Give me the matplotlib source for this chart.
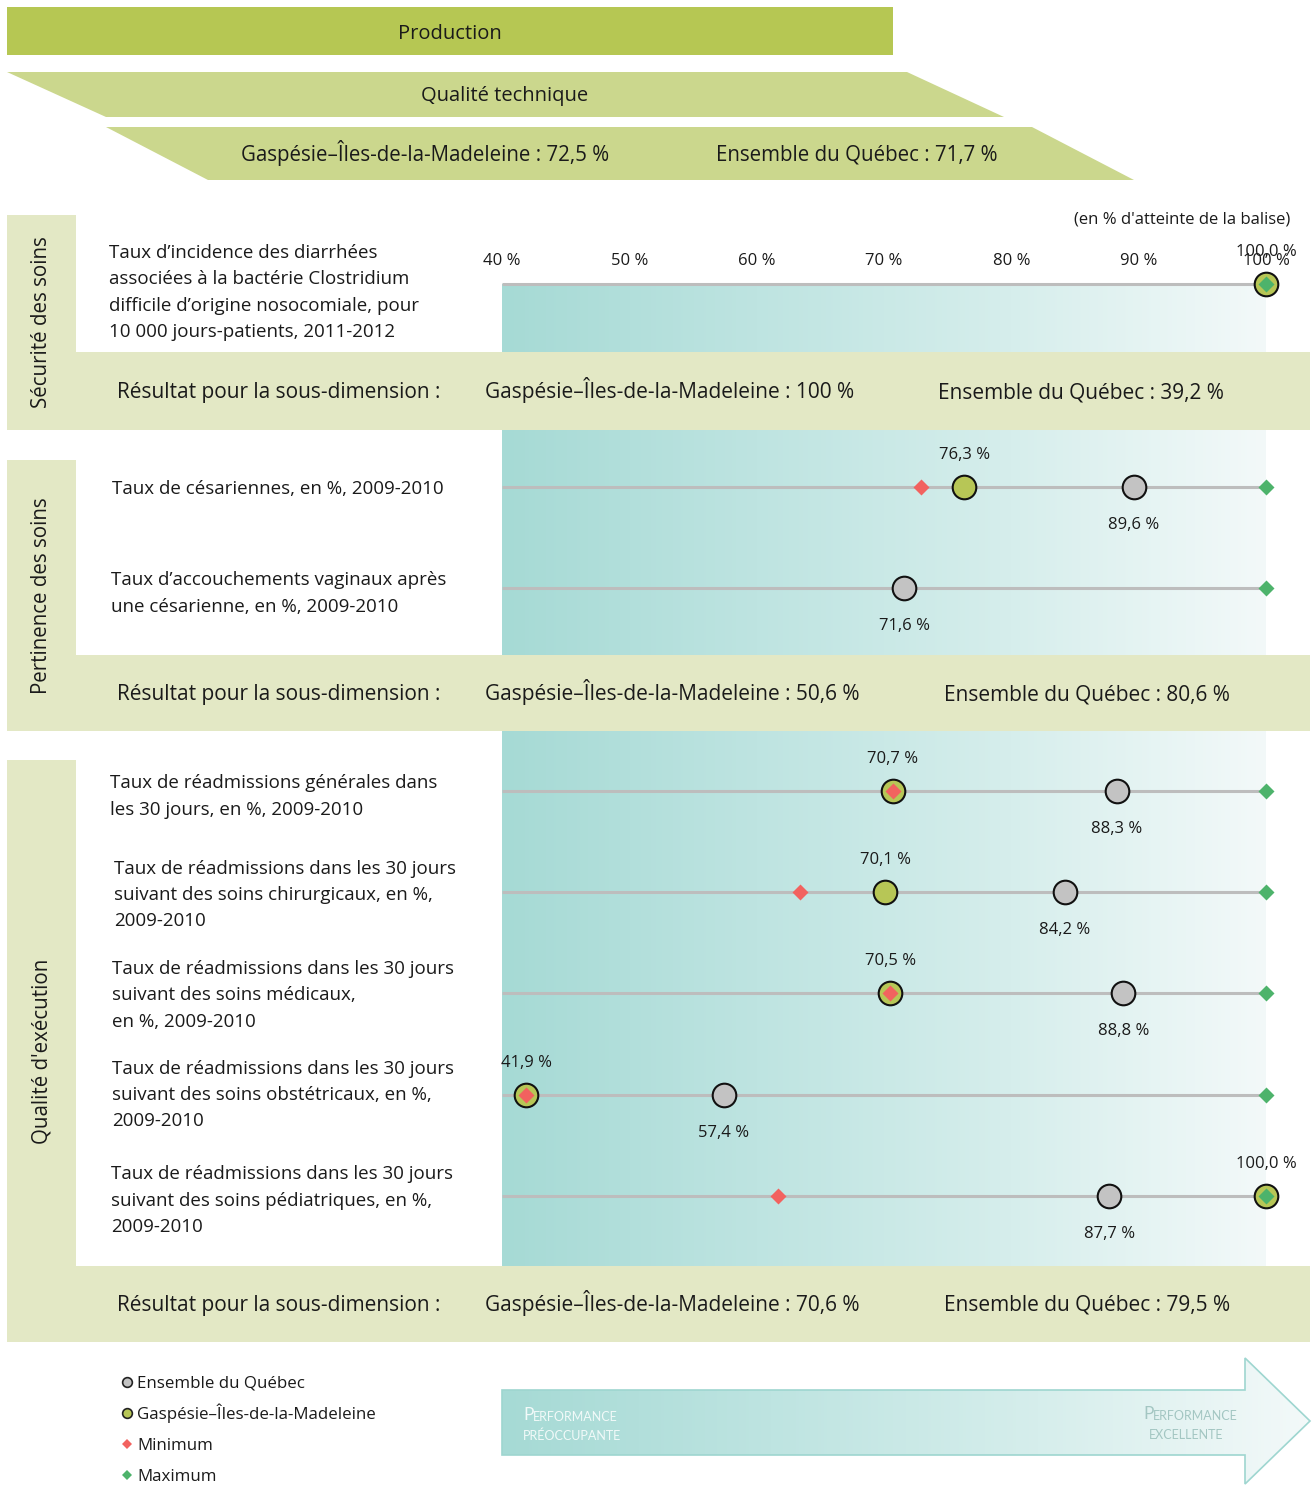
import numpy as np
import matplotlib
matplotlib.use("Agg")
import matplotlib.pyplot as plt
from matplotlib.patches import Polygon, Rectangle
from matplotlib.colors import LinearSegmentedColormap

plt.rcParams["font.family"] = ["Open Sans", "DejaVu Sans"]

# ---- data ---------------------------------------------------------------
INDICATORS = [
    "Taux d\u2019incidence des diarrhées\nassociées à la bactérie Clostridium\n"
    "difficile d\u2019origine nosocomiale, pour\n10 000 jours-patients, 2011-2012",
    "Taux de césariennes, en %, 2009-2010",
    "Taux d\u2019accouchements vaginaux après\nune césarienne, en %, 2009-2010",
    "Taux de réadmissions générales dans\nles 30 jours, en %, 2009-2010",
    "Taux de réadmissions dans les 30 jours\nsuivant des soins chirurgicaux, en %,\n2009-2010",
    "Taux de réadmissions dans les 30 jours\nsuivant des soins médicaux,\nen %, 2009-2010",
    "Taux de réadmissions dans les 30 jours\nsuivant des soins obstétricaux, en %,\n2009-2010",
    "Taux de réadmissions dans les 30 jours\nsuivant des soins pédiatriques, en %,\n2009-2010",
]
GASPESIE = [100.0, 76.3, np.nan, 70.7, 70.1, 70.5, 41.9, 100.0]
QUEBEC = [np.nan, 89.6, 71.6, 88.3, 84.2, 88.8, 57.4, 87.7]
MINIMUM = [np.nan, 72.9, np.nan, 70.7, 63.4, 70.5, 41.9, 61.7]
MAXIMUM = [100.0, 100.0, 100.0, 100.0, 100.0, 100.0, 100.0, 100.0]

SECTIONS = ["Sécurité des soins", "Pertinence des soins", "Qualité d'exécution"]
SECTION_GASPESIE = ["100 %", "50,6 %", "70,6 %"]
SECTION_QUEBEC = ["39,2 %", "80,6 %", "79,5 %"]
TICKS = [40, 50, 60, 70, 80, 90, 100]

TOTAL_GASPESIE = "72,5 %"
TOTAL_QUEBEC = "71,7 %"

# ---- layout (pixels) ------------------------------------------------------
W, H = 1314, 1485
ROW_Y = [284, 487, 588, 791, 892, 993, 1095, 1196]
ROW_LABEL_X = [109, 112, 111, 110, 114, 112, 112, 111]
ROW_LABEL_DY = [8.5, 2, 5.5, 5.5, 3, 2.5, 0, 4.5]
# (left box top, band top, band bottom)
SECTION_BOX = [(215, 352, 430), (460, 655, 731), (760, 1266, 1342)]
GRAD_SPAN = [(284, 352), (430, 655), (731, 1266)]
ENS_X = [938, 944, 944]
X0_PX, X1_PX = 502, 1266  # pixel positions of 40 % and 100 %

BAR_DARK = "#B6C753"
BAR_LIGHT = "#CBD78D"
BAND = "#E3E8C5"
GASP_C = "#B7C656"
QC_C = "#C3C3C3"
MIN_C = "#F2625F"
MAX_C = "#4DB36B"
TXT = "#1A1A1A"

teal = LinearSegmentedColormap.from_list(
    "teal", ["#A6DAD5", "#BEE4E1", "#D6EEEC", "#F3F9F9"])
grad = np.linspace(0, 1, 256).reshape(1, -1)

fig = plt.figure(figsize=(W / 100, H / 100), dpi=100)
bg = fig.add_axes([0, 0, 1, 1])
bg.set_xlim(0, W)
bg.set_ylim(H, 0)
bg.axis("off")

# top banners (text placed on its baseline)
bg.add_patch(Rectangle((7, 7), 886, 48, color=BAR_DARK, lw=0))
bg.text(450, 39, "Production", ha="center", va="baseline", fontsize=14.5, color=TXT)
bg.add_patch(Polygon([(7, 72), (907, 72), (1004, 117), (106, 117)], color=BAR_LIGHT, lw=0))
bg.text(505, 101, "Qualité technique", ha="center", va="baseline", fontsize=14.5, color=TXT)
bg.add_patch(Polygon([(106, 127), (1032, 127), (1134, 180), (208, 180)], color=BAR_LIGHT, lw=0))
bg.text(425, 161, f"Gaspésie\u2013Îles-de-la-Madeleine : {TOTAL_GASPESIE}",
        ha="center", va="baseline", fontsize=14.8, color=TXT)
bg.text(857, 161, f"Ensemble du Québec : {TOTAL_QUEBEC}",
        ha="center", va="baseline", fontsize=14.8, color=TXT)

# section boxes, bands and gradients
for i, (top, btop, bbot) in enumerate(SECTION_BOX):
    bg.add_patch(Rectangle((7, top), 69, bbot - top, color=BAND, lw=0))
    bg.add_patch(Rectangle((7, btop), 1303, bbot - btop, color=BAND, lw=0))
    bg.text(42, (top + bbot) / 2, SECTIONS[i], rotation=90, ha="center", va="center",
            fontsize=14.8, color=TXT)
    by = (btop + bbot) / 2 + 7
    bg.text(117, by, "Résultat pour la sous-dimension :", ha="left", va="baseline",
            fontsize=15, color=TXT)
    bg.text(485, by, f"Gaspésie\u2013Îles-de-la-Madeleine : {SECTION_GASPESIE[i]}",
            ha="left", va="baseline", fontsize=15, color=TXT)
    bg.text(ENS_X[i], by, f"Ensemble du Québec : {SECTION_QUEBEC[i]}",
            ha="left", va="baseline", fontsize=15, color=TXT)
    g0, g1 = GRAD_SPAN[i]
    bg.imshow(grad, cmap=teal, aspect="auto", extent=(X0_PX, X1_PX, g1, g0),
              interpolation="bicubic", zorder=1)

bg.text(1290, 223, "(en % d'atteinte de la balise)", ha="right", va="baseline",
        fontsize=12, color=TXT)

# indicator labels
for lbl, lx, ry, dy in zip(INDICATORS, ROW_LABEL_X, ROW_Y, ROW_LABEL_DY):
    bg.text(lx, ry + dy, lbl, ha="left", va="center", fontsize=13.5,
            linespacing=1.6, color=TXT)

# bottom arrow
arrow = Polygon([(502, 1390), (1245, 1390), (1245, 1358), (1310, 1421),
                 (1245, 1484), (1245, 1455), (502, 1455)],
                facecolor="none", edgecolor="#9ED6D0", lw=1.2, zorder=3)
bg.add_patch(arrow)
im = bg.imshow(grad, cmap=teal, aspect="auto", extent=(502, 1310, 1484, 1358),
               interpolation="bicubic", zorder=2)
im.set_clip_path(arrow)


def small_caps(x, y, first, rest, color):
    t = bg.text(x, y, first, ha="left", va="baseline", fontsize=12.5, color=color,
                family="Lato", zorder=4)
    bg.annotate(rest, xy=(1, 0), xycoords=t, va="bottom", ha="left",
                fontsize=9, color=color, family="Lato", zorder=4)


small_caps(523, 1420, "P", "ERFORMANCE", "#F2FAF9")
bg.text(523, 1440, "PRÉOCCUPANTE", ha="left", va="baseline", fontsize=9,
        color="#F2FAF9", family="Lato", zorder=4)
small_caps(1143, 1419, "P", "ERFORMANCE", "#A3C6C2")
bg.text(1186, 1439, "EXCELLENTE", ha="center", va="baseline", fontsize=9,
        color="#A3C6C2", family="Lato", zorder=4)

# ---- data axes: x in %, y in pixels --------------------------------------
ppp = (X1_PX - X0_PX) / (TICKS[-1] - TICKS[0])
ax = fig.add_axes([0, 0, 1, 1])
ax.set_xlim(TICKS[0] - X0_PX / ppp, TICKS[-1] + (W - X1_PX) / ppp)
ax.set_ylim(H, 0)
ax.axis("off")
ax.patch.set_alpha(0)

for t in TICKS:
    ax.text(t, 265, f"{t} %", ha="center", va="baseline", fontsize=12, color=TXT)

ax.hlines(ROW_Y, TICKS[0], TICKS[-1], color="#BDBDBD", lw=2.2, zorder=2)
ax.plot(QUEBEC, ROW_Y, "o", ms=17, mfc=QC_C, mec="#111111", mew=1.5, ls="none", zorder=3)
ax.plot(GASPESIE, ROW_Y, "o", ms=17, mfc=GASP_C, mec="#111111", mew=1.5, ls="none", zorder=4)
ax.plot(MINIMUM, ROW_Y, "D", ms=8, mfc=MIN_C, mec="none", ls="none", zorder=5)
ax.plot(MAXIMUM, ROW_Y, "D", ms=8, mfc=MAX_C, mec="none", ls="none", zorder=5)

for g, q, ry in zip(GASPESIE, QUEBEC, ROW_Y):
    if not np.isnan(g):
        ax.text(g, ry - 28, f"{g:.1f} %".replace(".", ","), ha="center", va="baseline",
                fontsize=12, color=TXT)
    if not np.isnan(q):
        ax.text(q, ry + 42, f"{q:.1f} %".replace(".", ","), ha="center", va="baseline",
                fontsize=12, color=TXT)

# legend
LEG_Y = [1382, 1413, 1444, 1475]
legend_items = [("o", QC_C, "#222222", "Ensemble du Québec"),
                ("o", GASP_C, "#222222", "Gaspésie\u2013Îles-de-la-Madeleine"),
                ("D", MIN_C, "none", "Minimum"),
                ("D", MAX_C, "none", "Maximum")]
for (m, fc, ec, lbl), ly in zip(legend_items, LEG_Y):
    bg.plot([127], [ly], m, ms=7 if m == "o" else 5, mfc=fc, mec=ec, mew=1.2)
    bg.text(137, ly + 6, lbl, ha="left", va="baseline", fontsize=12.2, color=TXT)

fig.savefig("out.png", dpi=100)
